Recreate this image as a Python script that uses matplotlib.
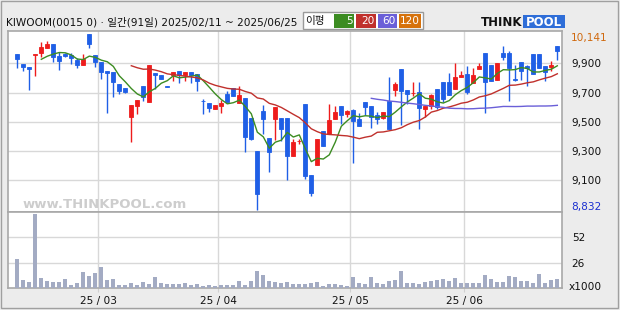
import matplotlib
matplotlib.use('Agg')
import matplotlib.pyplot as plt
import numpy as np
import pandas as pd
from matplotlib.patches import Rectangle

plt.rcParams['font.family'] = ['DejaVu Sans', 'Noto Sans CJK KR']

# ---------------- data ----------------
holidays = ['2025-03-03', '2025-05-01', '2025-05-05', '2025-05-06', '2025-06-03', '2025-06-06']
dates = [d for d in pd.bdate_range('2025-02-11', '2025-06-25') if d.strftime('%Y-%m-%d') not in holidays]

opens = [9964, 9895, 9873, 9960, 9973, 10007, 10032, 9950, 9966, 9957,
         9923, 9891, 10101, 9957, 9911, 9848, 9841, 9759, 9731, 9535,
         9611, 9745, 9638, 9832, 9818, 9745, 9820, 9848, 9823, 9841,
         9827, 9645, 9629, 9588, 9611, 9688, 9731, 9629, 9661, 9524,
         9301, 9576, 9387, 9519, 9524, 9524, 9269, 9367, 9622, 9136,
         9207, 9437, 9415, 9517, 9608, 9551, 9581, 9517, 9636, 9608,
         9544, 9529, 9642, 9718, 9859, 9718, 9697, 9704, 9590, 9608,
         9722, 9772, 9772, 9725, 9809, 9827, 9768, 9861, 9971, 9889,
         9786, 9971, 9971, 9793, 9907, 9882, 9964, 9964, 9882, 9877,
         10018]
highs = [9964, 9895, 9873, 9962, 10046, 10053, 10032, 9977, 9973, 9968,
         9939, 9962, 10101, 9957, 9911, 9848, 9841, 9759, 9731, 9615,
         9649, 9745, 9889, 9836, 9818, 9745, 9843, 9848, 9843, 9841,
         9827, 9658, 9629, 9615, 9649, 9711, 9731, 9745, 9661, 9524,
         9301, 9613, 9387, 9604, 9524, 9524, 9385, 9383, 9622, 9136,
         9383, 9437, 9622, 9608, 9608, 9581, 9588, 9558, 9636, 9608,
         9567, 9567, 9807, 9775, 9859, 9718, 9772, 9772, 9608, 9688,
         9722, 9772, 9836, 9902, 9848, 9882, 9868, 9902, 9971, 9889,
         9902, 10021, 9982, 9889, 9907, 9889, 9964, 9964, 9882, 9916,
         10018]
lows = [9870, 9845, 9718, 9816, 9946, 10007, 9911, 9854, 9946, 9893,
        9870, 9891, 10007, 9877, 9793, 9558, 9672, 9688, 9695, 9364,
        9551, 9642, 9638, 9725, 9793, 9736, 9781, 9763, 9781, 9763,
        9713, 9551, 9567, 9588, 9558, 9633, 9679, 9629, 9296, 9376,
        8897, 9415, 9159, 9376, 9371, 9102, 9269, 9346, 9111, 8995,
        9207, 9337, 9415, 9517, 9483, 9531, 9216, 9474, 9544, 9460,
        9488, 9522, 9451, 9679, 9478, 9622, 9677, 9451, 9531, 9588,
        9585, 9638, 9683, 9725, 9804, 9693, 9768, 9859, 9563, 9781,
        9786, 9923, 9642, 9781, 9786, 9747, 9827, 9870, 9781, 9850,
        9925]
closes = [9927, 9873, 9864, 9962, 10012, 10032, 9946, 9918, 9952, 9939,
          9891, 9930, 10034, 9911, 9843, 9836, 9772, 9713, 9704, 9615,
          9649, 9672, 9889, 9818, 9793, 9736, 9838, 9820, 9843, 9823,
          9779, 9640, 9597, 9615, 9631, 9633, 9679, 9683, 9399, 9383,
          9004, 9519, 9296, 9604, 9451, 9269, 9362, 9369, 9130, 9011,
          9383, 9337, 9513, 9567, 9549, 9574, 9508, 9474, 9604, 9535,
          9522, 9567, 9451, 9759, 9713, 9690, 9700, 9597, 9608, 9681,
          9599, 9658, 9683, 9807, 9823, 9706, 9820, 9879, 9775, 9781,
          9902, 9946, 9870, 9788, 9850, 9870, 9827, 9870, 9841, 9891,
          9987]
volumes = [29.4, 7.9, 5.8, 75.6, 9.9, 6.8, 5.8, 5.8, 8.9, 2.7,
           4.8, 16.1, 12.0, 15.1, 21.2, 7.9, 8.9, 2.7, 2.7, 4.8,
           2.7, 5.8, 3.8, 10.9, 4.8, 3.8, 3.8, 3.8, 4.8, 2.7,
           3.8, 1.7, 2.7, 1.7, 2.7, 2.7, 2.7, 6.8, 2.7, 6.8,
           17.1, 13.0, 6.8, 5.8, 4.8, 5.8, 3.8, 3.8, 3.8, 5.5,
           6.2, 1.7, 3.8, 3.8, 2.7, 1.7, 10.9, 4.8, 3.8, 10.9,
           4.8, 3.8, 6.8, 7.9, 17.1, 4.8, 4.8, 3.8, 5.8, 6.8,
           7.9, 8.9, 6.8, 9.9, 4.8, 4.8, 4.8, 4.8, 13.0, 8.9,
           5.8, 5.8, 12.0, 10.9, 6.8, 6.8, 4.8, 14.0, 4.8, 7.9,
           8.9]

price_ticks = [9100, 9300, 9500, 9700, 9900]
volume_ticks = [26, 52]
max_label = "10,141"
min_label = "8,832"
title_text = "KIWOOM(0015 0) · 일간(91일) 2025/02/11 ~ 2025/06/25"
ma_periods = [5, 20, 60, 120]
ma_colors = ['#3c8c22', '#c0302c', '#6a5fd8', '#d6720c']

# ---------------- figure ----------------
W, H = 620, 310
fig = plt.figure(figsize=(6.2, 3.1), dpi=100, facecolor='#ececec')

def box(x0, y0, x1, y1):
    return [x0 / W, 1 - y1 / H, (x1 - x0) / W, (y1 - y0) / H]

ax = fig.add_axes(box(8, 31, 562, 212))
axv = fig.add_axes(box(8, 212, 562, 288))

n = len(closes)
x = np.arange(n)
o = np.array(opens); h = np.array(highs); l = np.array(lows); c = np.array(closes)
up = c >= o
RED, BLUE = '#ee1c1c', '#1f5fe6'
cols = np.where(up, RED, BLUE)

ax.vlines(x, l, h, colors=cols, lw=1.0, zorder=3)
ax.bar(x, np.abs(c - o), bottom=np.minimum(o, c), width=0.72, color=cols,
       edgecolor=cols, linewidth=0.6, zorder=4)

cs = pd.Series(closes, dtype=float)
for p, col in zip(ma_periods, ma_colors):
    ma = cs.rolling(p).mean()
    ax.plot(x, ma, color=col, lw=1.0, zorder=5)

# month boundaries
months = [d.month for d in dates]
bounds = [i - 0.5 for i in range(1, n) if months[i] != months[i - 1]]
blabels = [dates[int(b + 0.5)].strftime('%y/%m').replace('/', ' / ') for b in bounds]

xl = (-1.55, 90.78)
for a in (ax, axv):
    a.set_xlim(*xl)
    a.set_facecolor('white')
    for s in a.spines.values():
        s.set_color('#a8a8a8')
        s.set_linewidth(1.2)
    a.set_xticks(bounds)
    a.grid(True, color='#d8d8d8', lw=1.0, zorder=0)
    a.set_axisbelow(True)
    a.yaxis.tick_right()
    a.tick_params(axis='y', length=0, pad=7, labelsize=7.6, labelcolor='#111111')

ax.set_ylim(8884, 10121)
ax.set_yticks(price_ticks)
ax.set_yticklabels([f"{v:,}" for v in price_ticks])
ax.tick_params(axis='x', length=0, labelbottom=False)

axv.bar(x, volumes, width=0.72, color='#a3abc3', zorder=3)
axv.set_ylim(0, 77.7)
axv.set_yticks(volume_ticks)
axv.set_yticklabels([str(v) for v in volume_ticks])
axv.set_xticklabels(blabels)
axv.tick_params(axis='x', length=3, color='#d0d0d0', pad=3, labelsize=7.6, labelcolor='#111111')

# ---------------- overlay (pixel coords) ----------------
ov = fig.add_axes([0, 0, 1, 1], facecolor='none')
ov.set_xlim(0, W); ov.set_ylim(H, 0); ov.axis('off')

ov.add_patch(Rectangle((1, 1), W - 3, H - 3, fill=False, ec='#a0a0a0', lw=1.0))
ov.text(6, 22, title_text, fontsize=7.6, va='center', ha='left', color='#111111')

# legend box
ov.add_patch(Rectangle((303, 12), 120, 17, fc='white', ec='#9a9a9a', lw=1.0))
ov.text(305, 21, "이평", fontsize=7.6, va='center', ha='left', color='#111111')
lx = [334, 356, 378, 399]
lw_ = [20, 20, 19, 22]
for xx, ww, p, col in zip(lx, lw_, ma_periods, ma_colors):
    ov.add_patch(Rectangle((xx, 14), ww, 14, fc=col, ec='none'))
    ov.text(xx + ww - 1, 21.5, str(p), fontsize=7.6, va='center', ha='right', color='white')

# logo
ov.text(522, 22, "THINK", fontsize=8.5, fontweight='bold', va='center', ha='right', color='#111111')
ov.add_patch(Rectangle((523, 15), 42, 13, fc='#2f6ed8', ec='none'))
ov.text(544, 22, "POOL", fontsize=8.5, fontweight='bold', va='center', ha='center', color='white')

# watermark
ov.text(23, 204, "www.THINKPOOL.com", fontsize=9.5, fontweight='bold', va='center', ha='left',
        color='#cdcdcd')

# max / min price labels and volume unit
ov.text(571, 38, max_label, fontsize=7.6, va='center', ha='left', color='#d06a10')
ov.text(571, 207, min_label, fontsize=7.6, va='center', ha='left', color='#1a2fd0')
ov.text(569, 287, "x1000", fontsize=7.6, va='center', ha='left', color='#111111')

fig.savefig('out.png', dpi=100, facecolor=fig.get_facecolor())
